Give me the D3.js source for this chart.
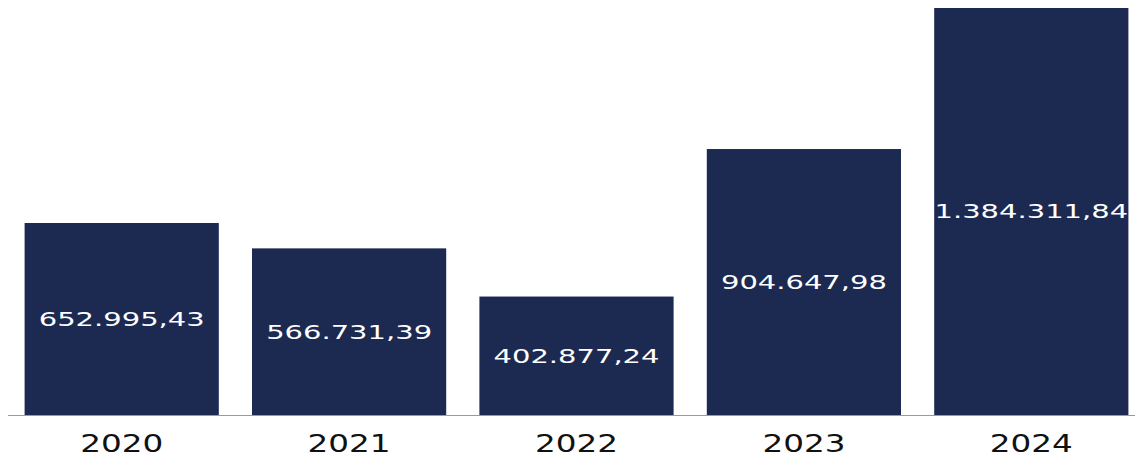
<!DOCTYPE html>
<html>
<head>
<meta charset="utf-8">
<script src="https://cdn.jsdelivr.net/npm/d3@7"></script>
<style>
  html, body { margin: 0; padding: 0; background: #fff; }
  svg { display: block; }
</style>
</head>
<body>
<svg id="chart" width="1135" height="459"></svg>
<script>
const years = ['2020', '2021', '2022', '2023', '2024'];
const values = [652995.43, 566731.39, 402877.24, 904647.98, 1384311.84];
const valueLabels = ['652.995,43', '566.731,39', '402.877,24', '904.647,98', '1.384.311,84'];

const width = 1135;
const height = 459;
const margin = { top: 8, right: -10, bottom: 44, left: 8 };

const svg = d3.select('#chart');

const x = d3
  .scaleBand()
  .domain(years)
  .range([margin.left, width - margin.right])
  .paddingInner(0.146)
  .paddingOuter(0.073);

const y = d3
  .scaleLinear()
  .domain([0, d3.max(values)])
  .range([height - margin.bottom, margin.top]);

const data = years.map((yr, i) => ({ year: yr, value: values[i], label: valueLabels[i] }));

// bars
svg
  .append('g')
  .selectAll('rect')
  .data(data)
  .enter()
  .append('rect')
  .attr('x', (d) => x(d.year))
  .attr('y', (d) => y(d.value))
  .attr('width', x.bandwidth())
  .attr('height', (d) => y(0) - y(d.value))
  .attr('fill', '#1c2a52');

// baseline
svg
  .append('line')
  .attr('x1', margin.left)
  .attr('x2', width)
  .attr('y1', y(0) + 0.5)
  .attr('y2', y(0) + 0.5)
  .attr('stroke', '#9a9a9a')
  .attr('stroke-width', 1.2);

// value labels, centred in each bar (wide font look via horizontal stretch)
svg
  .append('g')
  .selectAll('g')
  .data(data)
  .enter()
  .append('g')
  .attr('transform', (d) => `translate(${x(d.year) + x.bandwidth() / 2},${(y(d.value) + y(0)) / 2})`)
  .append('text')
  .attr('transform', 'scale(1.45,1)')
  .attr('text-anchor', 'middle')
  .attr('dominant-baseline', 'central')
  .attr('font-family', 'DejaVu Sans')
  .attr('font-size', 20)
  .attr('fill', '#ffffff')
  .text((d) => d.label);

// year labels
svg
  .append('g')
  .selectAll('g')
  .data(years)
  .enter()
  .append('g')
  .attr('transform', (d) => `translate(${x(d) + x.bandwidth() / 2},${y(0) + 29})`)
  .append('text')
  .attr('transform', 'scale(1.36,1)')
  .attr('text-anchor', 'middle')
  .attr('dominant-baseline', 'central')
  .attr('font-family', 'DejaVu Sans')
  .attr('font-size', 24)
  .attr('fill', '#111')
  .text((d) => d);
</script>
</body>
</html>
